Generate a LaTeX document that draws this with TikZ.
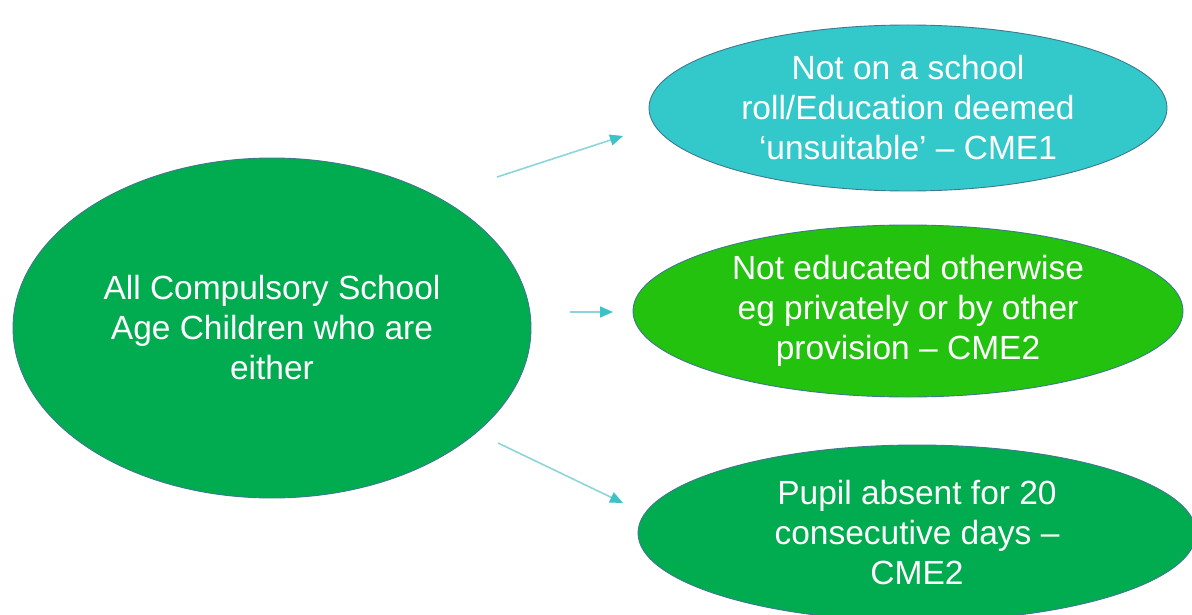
\documentclass[tikz,border=0pt]{standalone}
\usepackage{fontspec}
\setmainfont{Liberation Sans}
\usetikzlibrary{shapes.geometric,arrows.meta}
\definecolor{cyanfill}{HTML}{33C9CB}
\definecolor{limefill}{HTML}{22C20E}
\definecolor{greenfill}{HTML}{00AC4F}
\definecolor{rimcol}{HTML}{3F7891}
\definecolor{arrline}{HTML}{8CD6D9}
\definecolor{arrtip}{HTML}{3CC3C8}
\tikzset{
  blob/.style={ellipse, draw=rimcol, line width=0.9pt, inner sep=0pt},
  blobtext/.style={text=white, align=center, inner sep=0pt,
    font=\fontsize{33.5}{40}\selectfont},
  arr/.style={draw=arrline, line width=1.6pt,
    -{Triangle[length=13pt,width=11pt,color=arrtip,fill=arrtip]}}
}
\begin{document}
\begin{tikzpicture}[x=1pt,y=-1pt]
\useasboundingbox (0,0) rectangle (1192,615);
\clip (0,0) rectangle (1192,615);
\fill[white] (0,0) rectangle (1192,615);

\node[blob, fill=greenfill, minimum width=518pt, minimum height=340pt] (L) at (272,328) {};
\node[blobtext] (Lt) at (L.center) {All Compulsory School\\Age Children who are\\either};

\node[blob, fill=cyanfill, minimum width=518pt, minimum height=166pt] (T) at (908,108) {};
\node[blobtext] (Tt) at (T.center) {Not on a school\\roll/Education deemed\\‘unsuitable’ – CME1};

\node[blob, fill=limefill, minimum width=550pt, minimum height=172pt] (M) at (908,311) {};
\node[blobtext] (Mt) at (M.center) {Not educated otherwise\\eg privately or by other\\provision – CME2};

\node[blob, fill=greenfill, minimum width=558pt, minimum height=176pt] (B) at (917,533) {};
\node[blobtext] (Bt) at (B.center) {Pupil absent for 20\\consecutive days –\\CME2};

\coordinate (a1s) at (497,177);
\coordinate (a1e) at (623,136);
\coordinate (a2s) at (570,312);
\coordinate (a2e) at (613,312);
\coordinate (a3s) at (498,443);
\coordinate (a3e) at (623,503);

\draw[arr] (a1s) -- (a1e);
\draw[arr] (a2s) -- (a2e);
\draw[arr] (a3s) -- (a3e);
\end{tikzpicture}
\end{document}
